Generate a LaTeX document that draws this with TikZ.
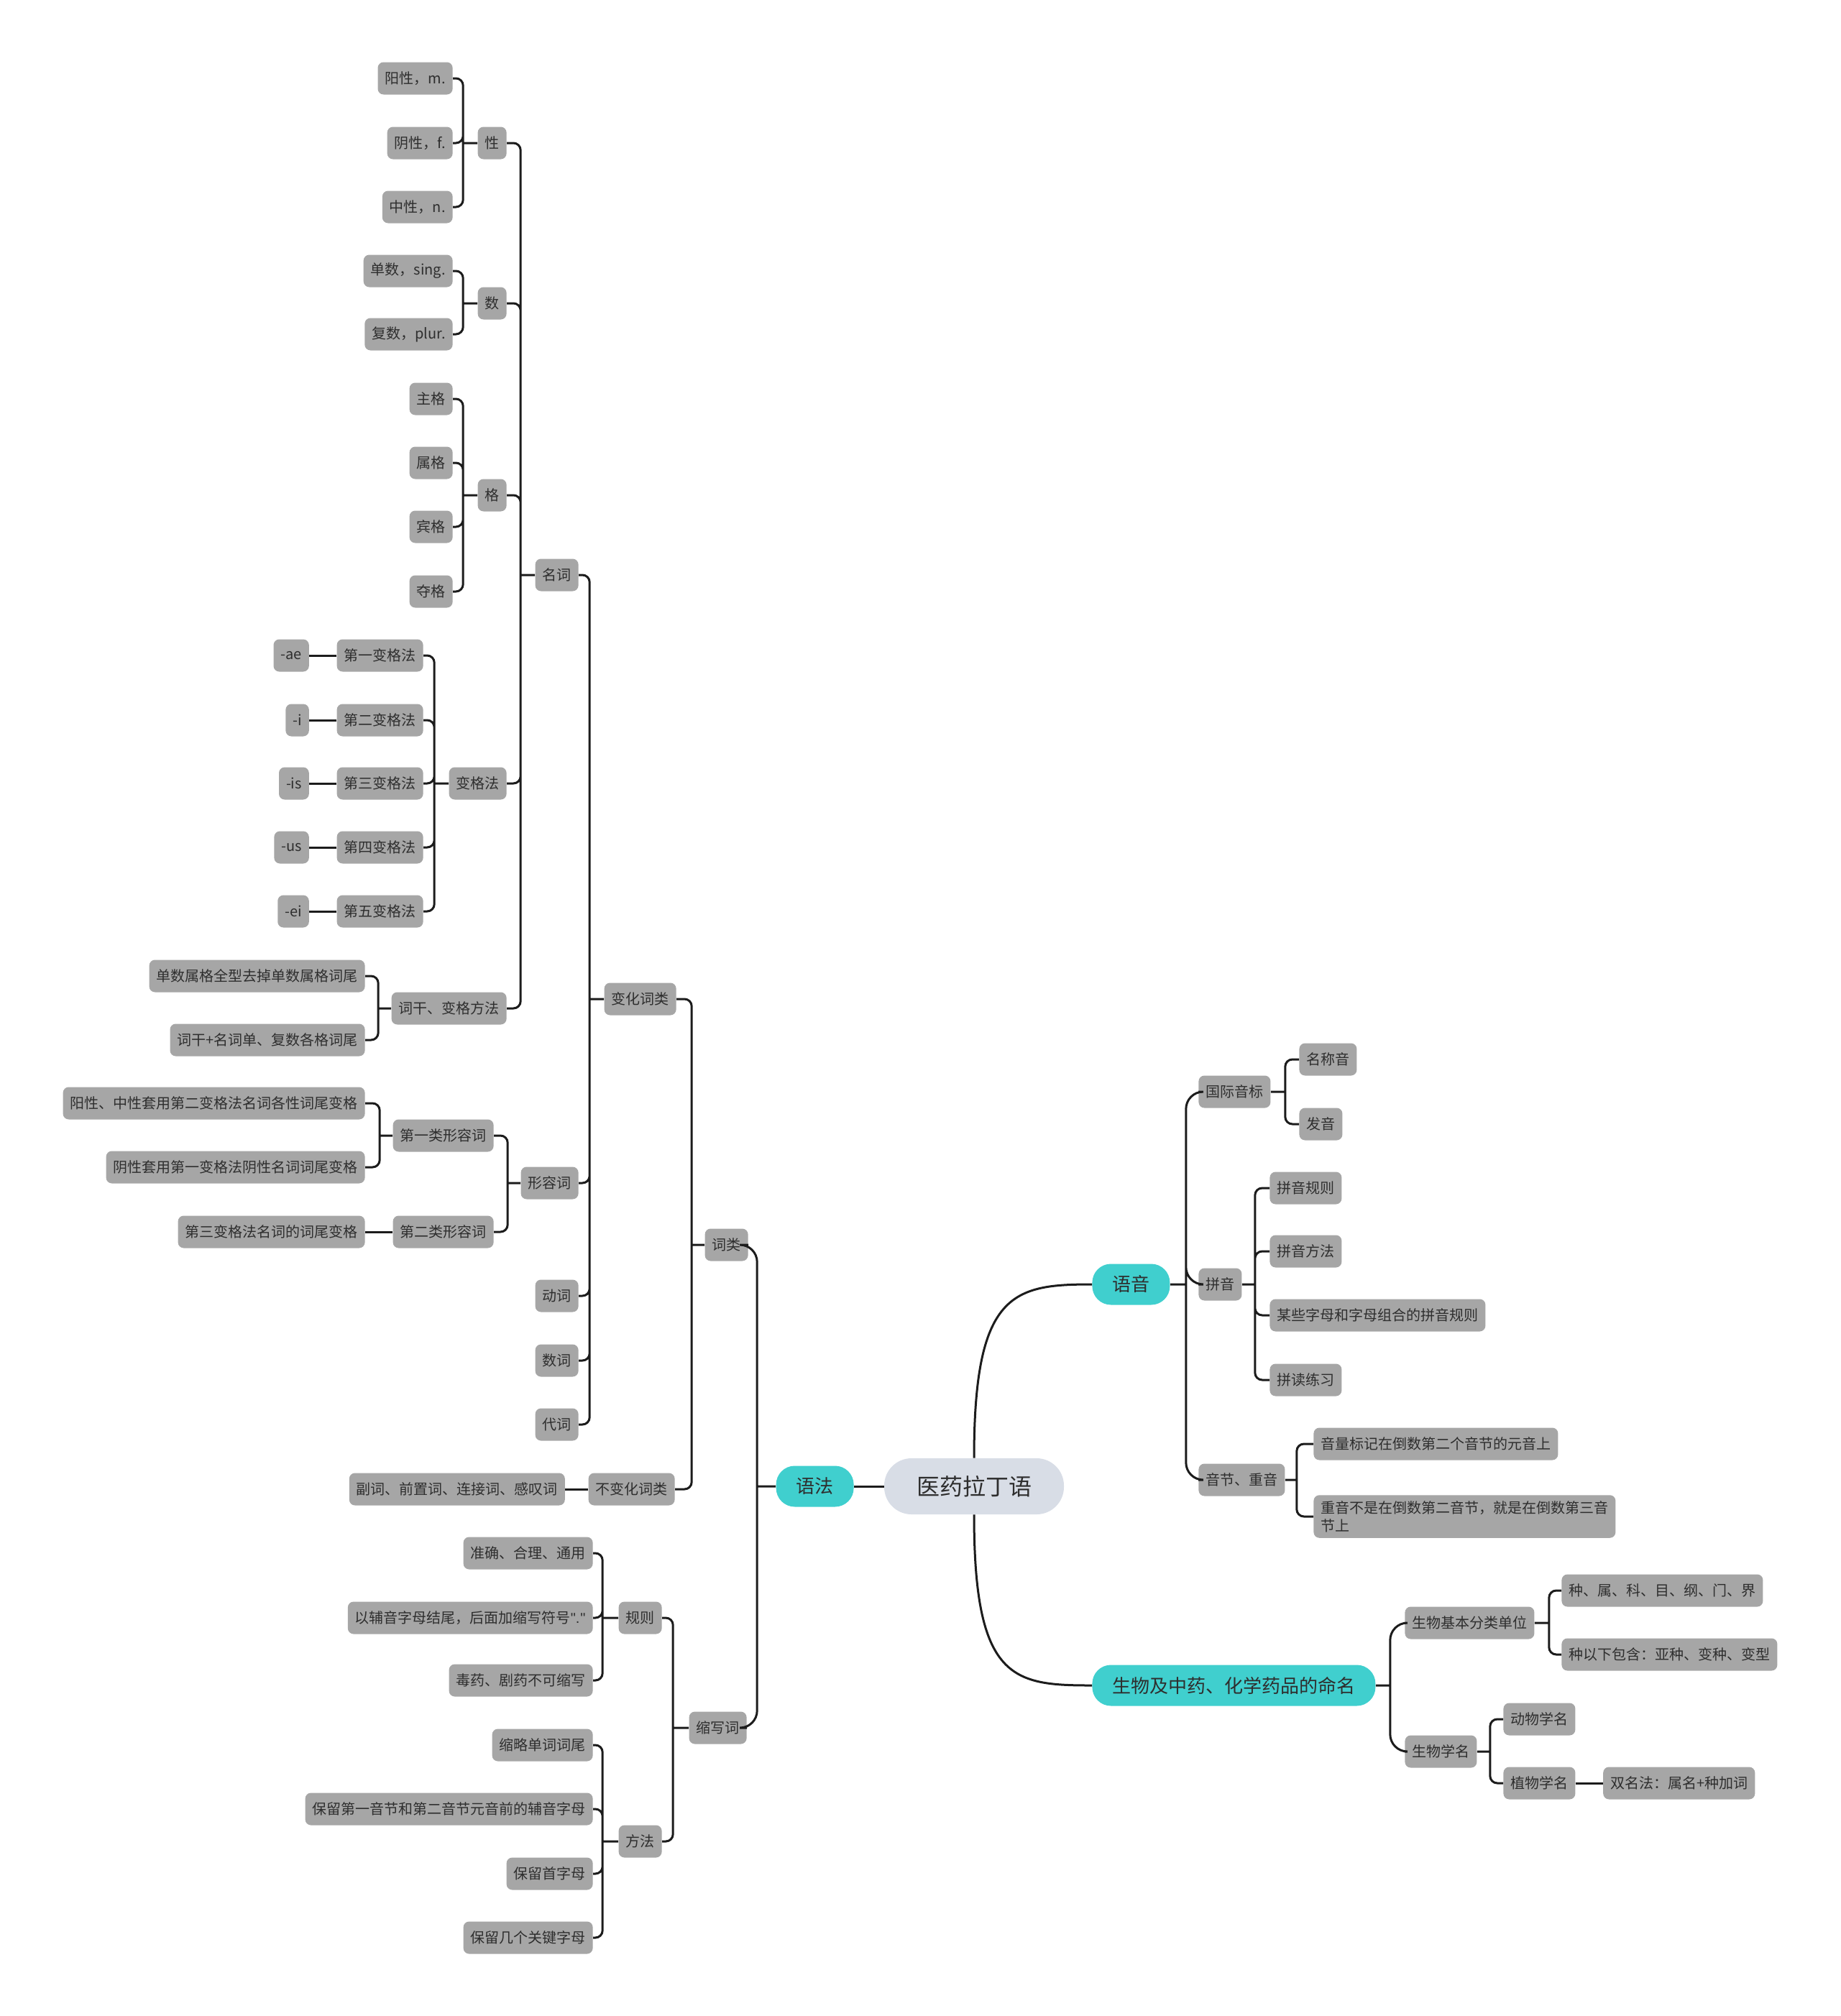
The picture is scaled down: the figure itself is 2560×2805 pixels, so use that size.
\documentclass[tikz,border=0pt]{standalone}
\usepackage{fontspec}
\setmainfont{Noto Sans CJK SC}
\newfontfamily\latinf{Liberation Sans}
\usetikzlibrary{positioning}

\definecolor{leafgray}{HTML}{A6A6A6}
\definecolor{brteal}{HTML}{40CFCE}
\definecolor{rootgray}{HTML}{D8DDE6}
\definecolor{inkgray}{HTML}{2E2E2E}
\definecolor{linkblack}{HTML}{1C1C1C}

\tikzset{
  leaf/.style={fill=leafgray, rounded corners=4pt, text=inkgray,
    font=\fontsize{10}{12.5}\selectfont, inner xsep=5pt, inner ysep=0pt,
    minimum height=22.5pt},
  mainbr/.style={fill=brteal, rounded corners=13pt, text=inkgray,
    font=\fontsize{13}{15}\selectfont, inner xsep=14pt, inner ysep=0pt,
    minimum height=28.5pt},
  rootbox/.style={fill=rootgray, rounded corners=19pt, text=inkgray,
    font=\fontsize{16}{19}\selectfont, inner xsep=22.5pt, inner ysep=0pt,
    minimum height=39pt},
  link/.style={draw=linkblack, line width=1.5pt, rounded corners=5pt},
}

\begin{document}
\begin{tikzpicture}[x=0.5pt,y=-0.5pt]
\useasboundingbox (0,0) rectangle (2560,2805);

% centre and main branches
\node[rootbox] (root) at (1355,2068) {医药拉丁语};
\node[mainbr, anchor=east] (yufa) at (1188,2068) {语法};
\node[mainbr, anchor=west] (yuyin) at (1519,1787) {语音};
\node[mainbr, anchor=west] (mingming) at (1519,2345) {生物及中药、化学药品的命名};

% 语法
\node[leaf, anchor=east] (cilei) at (1041,1732) {词类};
\node[leaf, anchor=east] (suoxie) at (1039,2404) {缩写词};
\node[leaf, anchor=east] (bianhua) at (941,1390) {变化词类};
\node[leaf, anchor=east] (bubian) at (939,2072) {不变化词类};
\node[leaf, left=16pt of bubian] (fuci) {副词、前置词、连接词、感叹词};

\node[leaf, anchor=east] (mingci) at (805,800) {名词};
\node[leaf, anchor=east] (xingrong) at (805,1646) {形容词};
\node[leaf, anchor=east] (dongci) at (805,1803) {动词};
\node[leaf, anchor=east] (shuci) at (805,1893) {数词};
\node[leaf, anchor=east] (daici) at (805,1982) {代词};

\node[leaf, anchor=east] (xing) at (705,199) {性};
\node[leaf, anchor=east] (shu) at (705,422) {数};
\node[leaf, anchor=east] (ge) at (705,689) {格};
\node[leaf, anchor=east] (bgf) at (705,1090) {变格法};
\node[leaf, anchor=east] (cgff) at (705,1403) {词干、变格方法};

\node[leaf, anchor=east] (yang) at (630,109) {阳性，m.};
\node[leaf, anchor=east] (yin) at (630,199) {阴性，f.};
\node[leaf, anchor=east] (zhong) at (630,288) {中性，n.};
\node[leaf, anchor=east] (dan) at (630,377) {单数，sing.};
\node[leaf, anchor=east] (fu) at (630,465) {复数，plur.};
\node[leaf, anchor=east] (zhuge) at (630,555) {主格};
\node[leaf, anchor=east] (shuge) at (630,644) {属格};
\node[leaf, anchor=east] (binge) at (630,733) {宾格};
\node[leaf, anchor=east] (duoge) at (630,823) {夺格};

\node[leaf, anchor=east] (bg1) at (589,912) {第一变格法};
\node[leaf, anchor=east] (bg2) at (589,1002) {第二变格法};
\node[leaf, anchor=east] (bg3) at (589,1090) {第三变格法};
\node[leaf, anchor=east] (bg4) at (589,1179) {第四变格法};
\node[leaf, anchor=east] (bg5) at (589,1268) {第五变格法};
\node[leaf, left=19pt of bg1] (ae) {-ae};
\node[leaf, left=19pt of bg2] (ii) {-i};
\node[leaf, left=19pt of bg3] (is) {-is};
\node[leaf, left=19pt of bg4] (us) {-us};
\node[leaf, left=19pt of bg5] (ei) {-ei};

\node[leaf, anchor=east] (cg1) at (508,1358) {单数属格全型去掉单数属格词尾};
\node[leaf, anchor=east] (cg2) at (508,1447) {词干+名词单、复数各格词尾};

\node[leaf, anchor=east] (xr1) at (687,1580) {第一类形容词};
\node[leaf, anchor=east] (xr2) at (687,1714) {第二类形容词};
\node[leaf, anchor=east] (xr1a) at (508,1535) {阳性、中性套用第二变格法名词各性词尾变格};
\node[leaf, anchor=east] (xr1b) at (508,1624) {阴性套用第一变格法阴性名词词尾变格};
\node[leaf, anchor=east] (xr2a) at (508,1714) {第三变格法名词的词尾变格};

\node[leaf, anchor=east] (guize) at (921,2251) {规则};
\node[leaf, anchor=east] (fangfa) at (921,2562) {方法};
\node[leaf, anchor=east] (gz1) at (825,2161) {准确、合理、通用};
\node[leaf, anchor=east] (gz2) at (825,2251) {以辅音字母结尾，后面加缩写符号{\latinf ".\kern0.5pt"}};
\node[leaf, anchor=east] (gz3) at (825,2338) {毒药、剧药不可缩写};
\node[leaf, anchor=east] (ff1) at (825,2428) {缩略单词词尾};
\node[leaf, anchor=east] (ff2) at (825,2517) {保留第一音节和第二音节元音前的辅音字母};
\node[leaf, anchor=east] (ff3) at (825,2607) {保留首字母};
\node[leaf, anchor=east] (ff4) at (825,2696) {保留几个关键字母};

% 语音
\node[leaf, anchor=west] (gjyb) at (1667,1519) {国际音标};
\node[leaf, anchor=west] (pinyin) at (1667,1787) {拼音};
\node[leaf, anchor=west] (yinjie) at (1667,2059) {音节、重音};
\node[leaf, anchor=west] (mcy) at (1807,1474) {名称音};
\node[leaf, anchor=west] (fy) at (1807,1564) {发音};
\node[leaf, anchor=west] (py1) at (1766,1653) {拼音规则};
\node[leaf, anchor=west] (py2) at (1766,1741) {拼音方法};
\node[leaf, anchor=west] (py3) at (1766,1830) {某些字母和字母组合的拼音规则};
\node[leaf, anchor=west] (py4) at (1766,1920) {拼读练习};
\node[leaf, anchor=west] (yj1) at (1827,2009) {音量标记在倒数第二个音节的元音上};
\node[leaf, anchor=west, align=left, inner ysep=4pt] (yj2) at (1827,2110)
  {重音不是在倒数第二音节，就是在倒数第三音\\节上};

% 命名
\node[leaf, anchor=west] (swjb) at (1954,2258) {生物基本分类单位};
\node[leaf, anchor=west] (swxm) at (1954,2437) {生物学名};
\node[leaf, anchor=west] (zs1) at (2172,2213) {种、属、科、目、纲、门、界};
\node[leaf, anchor=west] (zs2) at (2172,2302) {种以下包含：亚种、变种、变型};
\node[leaf, anchor=west] (dw) at (2091,2392) {动物学名};
\node[leaf, anchor=west] (zw) at (2091,2481) {植物学名};
\node[leaf, right=19pt of zw] (smf) {双名法：属名+种加词};

% connectors from the centre
\draw[link] (root.west) -- (yufa.east);
\draw[link] (root.north) .. controls +(0,-230) and +(-110,0) .. (yuyin.west);
\draw[link] (root.south) .. controls +(0,230) and +(-110,0) .. (mingming.west);

% bars
\coordinate (jYufa) at ([xshift=-13pt]yufa.west);
\coordinate (jCilei) at ([xshift=-9pt]cilei.west);
\coordinate (jBianhua) at ([xshift=-10pt]bianhua.west);
\coordinate (jMingci) at ([xshift=-10pt]mingci.west);
\coordinate (jXing) at ([xshift=-10pt]xing.west);
\coordinate (jShu) at ([xshift=-10pt]shu.west);
\coordinate (jGe) at ([xshift=-10pt]ge.west);
\coordinate (jBgf) at ([xshift=-10pt]bgf.west);
\coordinate (jCgff) at ([xshift=-9pt]cgff.west);
\coordinate (jXingrong) at ([xshift=-9pt]xingrong.west);
\coordinate (jXr1) at ([xshift=-9pt]xr1.west);
\coordinate (jSuoxie) at ([xshift=-11pt]suoxie.west);
\coordinate (jGuize) at ([xshift=-11pt]guize.west);
\coordinate (jFangfa) at ([xshift=-11pt]fangfa.west);
\coordinate (jYuyin) at ([xshift=11pt]yuyin.east);
\coordinate (jGjyb) at ([xshift=10pt]gjyb.east);
\coordinate (jPinyin) at ([xshift=9pt]pinyin.east);
\coordinate (jYinjie) at ([xshift=8pt]yinjie.east);
\coordinate (jMing) at ([xshift=10pt]mingming.east);
\coordinate (jSwjb) at ([xshift=10pt]swjb.east);
\coordinate (jSwxm) at ([xshift=9pt]swxm.east);

\draw[link, rounded corners=12pt] (yufa.west) -- (jYufa)
  (jYufa) |- (cilei.east) (jYufa) |- (suoxie.east);
\draw[link] (cilei.west) -- (jCilei)
  (jCilei) |- (bianhua.east) (jCilei) |- (bubian.east);
\draw[link] (bubian.west) -- (fuci.east);
\draw[link] (bianhua.west) -- (jBianhua)
  (jBianhua) |- (mingci.east) (jBianhua) |- (xingrong.east)
  (jBianhua) |- (dongci.east) (jBianhua) |- (shuci.east)
  (jBianhua) |- (daici.east);
\draw[link] (mingci.west) -- (jMingci)
  (jMingci) |- (xing.east) (jMingci) |- (shu.east) (jMingci) |- (ge.east)
  (jMingci) |- (bgf.east) (jMingci) |- (cgff.east);
\draw[link] (xing.west) -- (jXing)
  (jXing) |- (yang.east) (jXing) |- (yin.east) (jXing) |- (zhong.east);
\draw[link] (shu.west) -- (jShu)
  (jShu) |- (dan.east) (jShu) |- (fu.east);
\draw[link] (ge.west) -- (jGe)
  (jGe) |- (zhuge.east) (jGe) |- (shuge.east)
  (jGe) |- (binge.east) (jGe) |- (duoge.east);
\draw[link] (bgf.west) -- (jBgf)
  (jBgf) |- (bg1.east) (jBgf) |- (bg2.east) (jBgf) |- (bg3.east)
  (jBgf) |- (bg4.east) (jBgf) |- (bg5.east);
\draw[link] (bg1.west) -- (ae.east) (bg2.west) -- (ii.east)
  (bg3.west) -- (is.east) (bg4.west) -- (us.east) (bg5.west) -- (ei.east);
\draw[link] (cgff.west) -- (jCgff)
  (jCgff) |- (cg1.east) (jCgff) |- (cg2.east);
\draw[link] (xingrong.west) -- (jXingrong)
  (jXingrong) |- (xr1.east) (jXingrong) |- (xr2.east);
\draw[link] (xr1.west) -- (jXr1)
  (jXr1) |- (xr1a.east) (jXr1) |- (xr1b.east);
\draw[link] (xr2.west) -- (xr2a.east);
\draw[link] (suoxie.west) -- (jSuoxie)
  (jSuoxie) |- (guize.east) (jSuoxie) |- (fangfa.east);
\draw[link] (guize.west) -- (jGuize)
  (jGuize) |- (gz1.east) (jGuize) |- (gz2.east) (jGuize) |- (gz3.east);
\draw[link] (fangfa.west) -- (jFangfa)
  (jFangfa) |- (ff1.east) (jFangfa) |- (ff2.east)
  (jFangfa) |- (ff3.east) (jFangfa) |- (ff4.east);

\draw[link, rounded corners=12pt] (yuyin.east) -- (jYuyin)
  (jYuyin) |- (gjyb.west) (jYuyin) |- (pinyin.west) (jYuyin) |- (yinjie.west);
\draw[link] (gjyb.east) -- (jGjyb)
  (jGjyb) |- (mcy.west) (jGjyb) |- (fy.west);
\draw[link] (pinyin.east) -- (jPinyin)
  (jPinyin) |- (py1.west) (jPinyin) |- (py2.west)
  (jPinyin) |- (py3.west) (jPinyin) |- (py4.west);
\draw[link] (yinjie.east) -- (jYinjie)
  (jYinjie) |- (yj1.west) (jYinjie) |- (yj2.west);

\draw[link, rounded corners=12pt] (mingming.east) -- (jMing)
  (jMing) |- (swjb.west) (jMing) |- (swxm.west);
\draw[link] (swjb.east) -- (jSwjb)
  (jSwjb) |- (zs1.west) (jSwjb) |- (zs2.west);
\draw[link] (swxm.east) -- (jSwxm)
  (jSwxm) |- (dw.west) (jSwxm) |- (zw.west);
\draw[link] (zw.east) -- (smf.west);

\end{tikzpicture}
\end{document}
